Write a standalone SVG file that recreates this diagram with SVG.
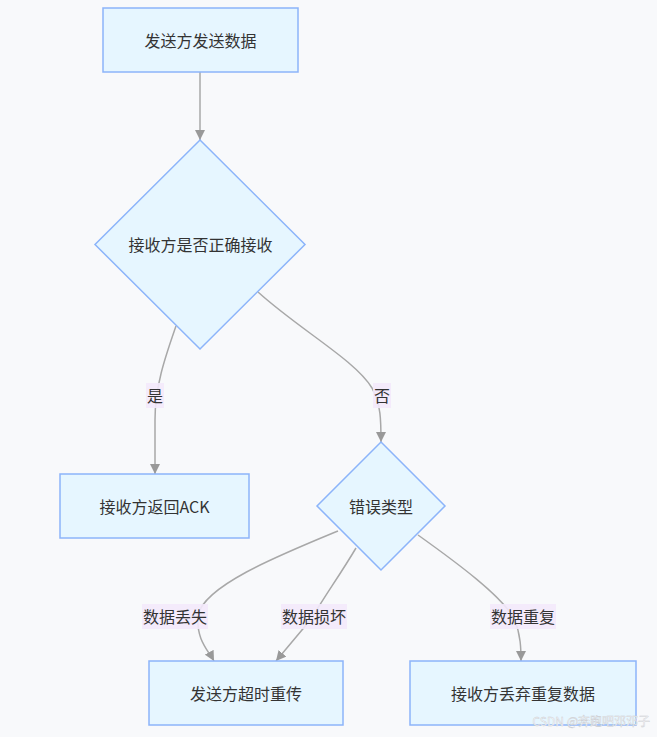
<svg xmlns="http://www.w3.org/2000/svg" width="657" height="737" viewBox="0 0 657 737">
<style>
.node{fill:#e6f6ff;stroke:#8cb4fa;stroke-width:1.5}
.t{font-family:"Noto Sans CJK SC","Noto Sans",sans-serif;font-size:16px;fill:#333;text-anchor:middle;dominant-baseline:central}
.e{fill:none;stroke:#a8a8a8;stroke-width:1.5}
.lb{fill:#f3e9fb;opacity:0.9}
</style>
<defs>
<marker id="arr" viewBox="0 0 10 10" refX="10" refY="5" markerWidth="10" markerHeight="10" markerUnits="userSpaceOnUse" orient="auto">
<path d="M0,0 L10,5 L0,10 z" fill="#999"/>
</marker>
</defs>
<rect width="657" height="737" fill="#f8f9fb"/>
<g id="edges">
<path class="e" d="M200,72 L200,140" marker-end="url(#arr)"/>
<path class="e" d="M176,326 C166,355 155,385 155,420 L155,474" marker-end="url(#arr)"/>
<path class="e" d="M258,292 C300,330 355,360 372,388 C381,405 381,420 381,442" marker-end="url(#arr)"/>
<path class="e" d="M338,531 C280,555 205,585 198,615 C196,640 208,650 214,661" marker-end="url(#arr)"/>
<path class="e" d="M356,548 C340,575 322,600 312,618 L276,661" marker-end="url(#arr)"/>
<path class="e" d="M418,535 C460,565 500,595 514,618 C521,635 521,650 521,661" marker-end="url(#arr)"/>
</g>
<g id="edge-labels">
<g id="l-yes"><rect class="lb" x="146" y="383" width="18" height="25"/><text class="t" x="155" y="395">是</text></g>
<g id="l-no"><rect class="lb" x="373" y="383" width="18" height="25"/><text class="t" x="382" y="395">否</text></g>
<g id="l-lost"><rect class="lb" x="142" y="604" width="66" height="25"/><text class="t" x="175" y="616">数据丢失</text></g>
<g id="l-bad"><rect class="lb" x="281" y="604" width="66" height="25"/><text class="t" x="314" y="616">数据损坏</text></g>
<g id="l-dup"><rect class="lb" x="490" y="604" width="66" height="25"/><text class="t" x="523" y="616">数据重复</text></g>
</g>
<g id="n1"><rect class="node" x="103" y="8" width="195" height="64"/><text class="t" x="200.5" y="40">发送方发送数据</text></g>
<g id="n2"><polygon class="node" points="200,140 305,244.5 200,349 95,244.5"/><text class="t" x="200.5" y="244">接收方是否正确接收</text></g>
<g id="n3"><rect class="node" x="60" y="474" width="189" height="64"/><text class="t" x="154.5" y="506">接收方返回ACK</text></g>
<g id="n4"><polygon class="node" points="381,442 445,506 381,570 317,506"/><text class="t" x="381" y="506">错误类型</text></g>
<g id="n5"><rect class="node" x="149" y="661" width="194" height="64"/><text class="t" x="246" y="693">发送方超时重传</text></g>
<g id="n6"><rect class="node" x="410" y="661" width="226" height="64"/><text class="t" x="523" y="693">接收方丢弃重复数据</text></g>
<text x="650" y="726" style="font-family:'Noto Sans CJK SC','Noto Sans',sans-serif;font-size:12px;fill:#ffffff;stroke:#c8cacf;stroke-width:0.4;text-anchor:end">CSDN @奔跑吧邓邓子</text>
</svg>
